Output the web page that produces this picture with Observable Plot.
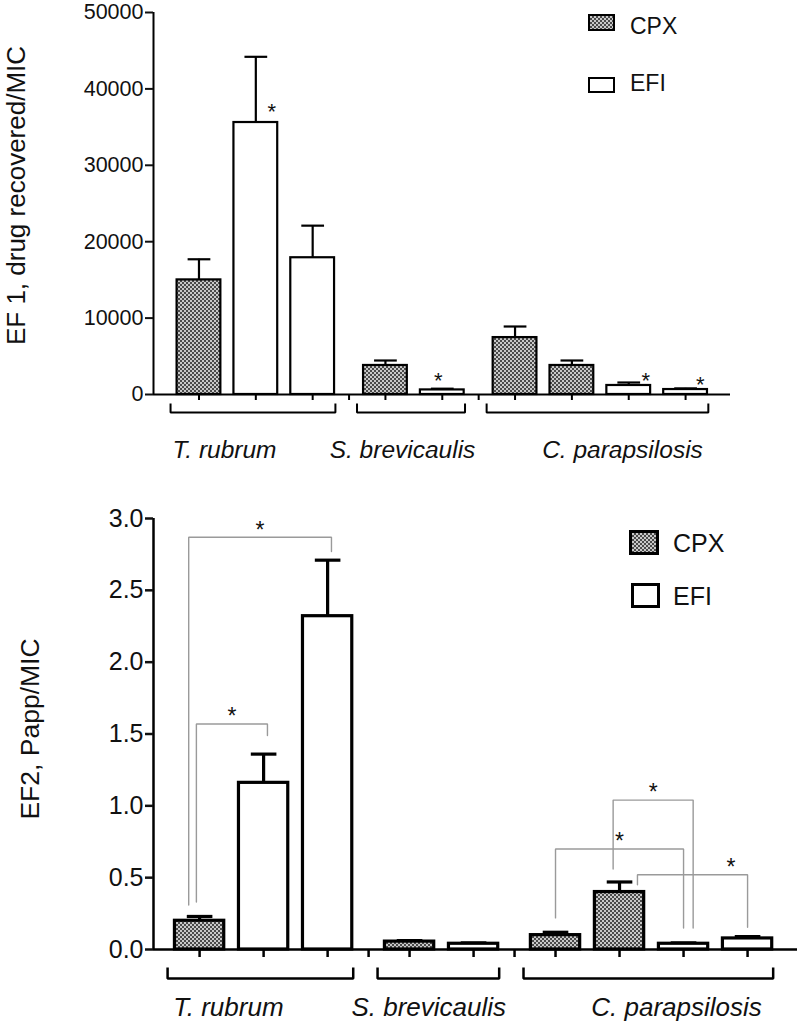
<!DOCTYPE html>
<html>
<head>
<meta charset="utf-8">
<script src="https://cdn.jsdelivr.net/npm/d3@7"></script>
<script src="https://cdn.jsdelivr.net/npm/@observablehq/plot@0.6"></script>
<style>
  body { margin: 0; background: #fff; font-family: Arial, "Liberation Sans", Helvetica, sans-serif; color: #111; }
  #wrap { position: relative; width: 798px; height: 1025px; overflow: hidden; }
  .panel { position: absolute; left: 0; }
  .sw { position: absolute; box-sizing: border-box; border: 2px solid #000; background: #fff; }
  .sw.cpx { background-color: #c8c8c8; background-image: conic-gradient(#4a4a4a 25%, #c8c8c8 0 50%, #4a4a4a 0 75%, #c8c8c8 0); background-size: 4px 4px; }
  .lt { position: absolute; line-height: 1; white-space: nowrap; }
</style>
</head>
<body>
<div id="wrap">
  <svg width="0" height="0" style="position:absolute">
    <defs>
      <pattern id="hatch" width="4" height="4" patternUnits="userSpaceOnUse">
        <rect width="4" height="4" fill="#c8c8c8"></rect>
        <rect width="2" height="2" fill="#4a4a4a"></rect>
        <rect x="2" y="2" width="2" height="2" fill="#4a4a4a"></rect>
      </pattern>
    </defs>
  </svg>
  <div id="top" class="panel" style="top:0"></div>
  <div id="bottom" class="panel" style="top:480px"></div>

  <div class="sw cpx" style="left:588px;top:14px;width:27px;height:17px"></div>
  <div class="lt" style="left:630px;top:14.7px;font-size:23px">CPX</div>
  <div class="sw" style="left:588px;top:77px;width:27px;height:16px"></div>
  <div class="lt" style="left:630px;top:71.7px;font-size:23px">EFI</div>

  <div class="sw cpx" style="left:629px;top:530px;width:30px;height:25px;border-width:3px"></div>
  <div class="lt" style="left:673px;top:530.8px;font-size:25px">CPX</div>
  <div class="sw" style="left:631px;top:583px;width:29px;height:25px;border-width:3px"></div>
  <div class="lt" style="left:673px;top:583.8px;font-size:25px">EFI</div>
</div>
<script>
// ---------- data ----------
const species = ["T. rubrum", "S. brevicaulis", "C. parapsilosis"];
const barSpecies = [0, 0, 0, 1, 1, 2, 2, 2, 2];
const barDrug = ["CPX", "EFI", "EFI", "CPX", "EFI", "CPX", "CPX", "EFI", "EFI"];

// EF 1 (top panel)
const ef1Mean  = [15000, 35600, 17900, 3800, 600, 7450, 3800, 1180, 650];
const ef1Upper = [17700, 44200, 22100, 4450, 760, 8900, 4450, 1570, 800];
const ef1Ticks = [0, 10000, 20000, 30000, 40000, 50000];
const ef1StarBar = [1, 4, 7, 8];
const ef1StarY = [37600, 2490, 2490, 1960];

// EF2 (bottom panel)
const ef2Mean  = [0.20, 1.16, 2.32, 0.055, 0.04, 0.10, 0.40, 0.04, 0.077];
const ef2Upper = [0.23, 1.36, 2.71, 0.062, 0.046, 0.12, 0.47, 0.046, 0.09];
const ef2Ticks = [0, 0.5, 1, 1.5, 2, 2.5, 3];
// significance comparisons (bar index from -> to, level of bracket, leg ends)
const cmpFrom    = [0, 0, 5, 6, 6];
const cmpTo      = [2, 1, 7, 7, 8];
const cmpTop     = [2.87, 1.57, 0.70, 1.04, 0.52];
const cmpFromEnd = [0.31, 0.33, 0.22, 0.56, 0.45];
const cmpToEnd   = [2.77, 1.49, 0.15, 0.15, 0.155];

// ---------- layout helpers (not data) ----------
const GAP = 0.28;                     // extra spacing between species groups
const HALF = 0.385;                   // half bar width (in slot units)
const barPos = barSpecies.map((g, i) => i + GAP * g);
const ef1StarShift = [0.28, -0.07, 0.3, 0.26];
const cmpFromShift = [-0.17, -0.05, 0, -0.1, 0.28];
const cmpToShift   = [0.06, 0.06, 0, 0.15, 0];
const cmpStarAt    = [0.5, 0.5, 0.5, 0.5, 0.85];
const labelShift   = [-0.55, -0.2, 0.39];
const FONT = 'Arial, "Liberation Sans", Helvetica, sans-serif';

function groupInfo() {
  return species.map((name, g) => {
    const ps = barPos.filter((_, i) => barSpecies[i] === g);
    const a = ps[0], b = ps[ps.length - 1];
    return {name, g, start: a - 0.5, end: b + 0.4, label: (a + b) / 2 + labelShift[g]};
  });
}
function gapTicks() {
  const out = [];
  for (let i = 1; i < barPos.length; i++) {
    if (barSpecies[i] !== barSpecies[i - 1]) out.push((barPos[i] + barPos[i - 1]) / 2);
  }
  return out;
}

function panel(o) {
  const plotH = o.height - o.mt - o.mb;
  const u = o.yMax / plotH; // data units per pixel
  const bars = o.mean.map((m, i) => ({i, pos: barPos[i], mean: m, upper: o.upper[i], drug: barDrug[i]}));
  const groups = groupInfo();
  const bracketPts = groups.flatMap(gr => [
    {g: gr.g, x: gr.start, y: -o.legTop * u},
    {g: gr.g, x: gr.start, y: -o.legBot * u},
    {g: gr.g, x: gr.end, y: -o.legBot * u},
    {g: gr.g, x: gr.end, y: -o.legTop * u}
  ]);
  const tickPos = [...barPos, ...gapTicks()];
  const marks = [
    // error bars
    Plot.ruleX(bars, {x: "pos", y1: "mean", y2: "upper", stroke: "#000", strokeWidth: o.sw}),
    Plot.link(bars, {x1: d => d.pos - o.cap, x2: d => d.pos + o.cap, y1: "upper", y2: "upper", stroke: "#000", strokeWidth: o.sw}),
    // bars
    Plot.rect(bars.filter(d => d.drug === "CPX"), {x1: d => d.pos - HALF, x2: d => d.pos + HALF, y1: 0, y2: "mean", fill: "url(#hatch)", stroke: "#000", strokeWidth: o.sw}),
    Plot.rect(bars.filter(d => d.drug === "EFI"), {x1: d => d.pos - HALF, x2: d => d.pos + HALF, y1: 0, y2: "mean", fill: "white", stroke: "#000", strokeWidth: o.sw}),
    // axes
    Plot.ruleX([o.xDomain[0]], {y1: 0, y2: o.yMax, stroke: "#000", strokeWidth: o.axisSw}),
    Plot.ruleY([0], {x1: o.xDomain[0], x2: o.xDomain[1], stroke: "#000", strokeWidth: o.axisSw}),
    Plot.axisY({ticks: o.ticks, tickFormat: o.fmt, tickSize: 8, tickPadding: 2, fontSize: o.tickFont, strokeWidth: o.axisSw, label: null}),
    Plot.ruleX(tickPos, {x: d => d, y1: 0, y2: -o.tickLen * u, stroke: "#000", strokeWidth: o.axisSw}),
    // species brackets and labels
    Plot.line(bracketPts, {x: "x", y: "y", z: "g", stroke: "#000", strokeWidth: o.axisSw, strokeLinejoin: "miter", strokeLinecap: "butt"}),
    Plot.text(groups, {x: "label", y: 0, text: "name", dy: o.labelDy, fontSize: o.labelFont, fontStyle: "italic", fill: "#111"}),
    // y label
    Plot.text([o.yLabel], {frameAnchor: "left", text: d => d, rotate: -90, dx: o.yLabelDx, dy: o.yLabelDy, fontSize: o.yLabelFont, fill: "#111", textAnchor: "middle"}),
    ...(o.extra ? o.extra(u) : [])
  ];
  return Plot.plot({
    width: 798, height: o.height,
    marginLeft: 153, marginRight: o.mr, marginTop: o.mt, marginBottom: o.mb,
    x: {domain: o.xDomain, axis: null},
    y: {domain: [0, o.yMax]},
    style: {fontFamily: FONT, background: "white", color: "#111", overflow: "visible"},
    marks
  });
}

// ---------- top panel ----------
const topStars = ef1StarBar.map((b, k) => ({x: barPos[b] + ef1StarShift[k], y: ef1StarY[k]}));
document.getElementById("top").appendChild(panel({
  mean: ef1Mean, upper: ef1Upper, ticks: ef1Ticks, yMax: 50000, fmt: d3.format("d"),
  height: 480, mt: 12, mb: 86, mr: 68, xDomain: [-0.8, 9.35],
  sw: 2.2, axisSw: 2, cap: 0.2, tickFont: 21.5, tickLen: 6, legTop: 9, legBot: 18,
  labelDy: 56, labelFont: 24.5,
  yLabel: "EF 1, drug recovered/MIC", yLabelFont: 26, yLabelDx: -137, yLabelDy: -8,
  extra: () => [Plot.text(topStars, {x: "x", y: "y", text: () => "*", fontSize: 22, dy: 5, fill: "#111"})]
}));

// ---------- bottom panel ----------
const cmpSegs = cmpFrom.flatMap((f, k) => {
  const xa = barPos[f] + cmpFromShift[k], xb = barPos[cmpTo[k]] + cmpToShift[k];
  return [
    {k, x: xa, y: cmpFromEnd[k]}, {k, x: xa, y: cmpTop[k]},
    {k, x: xb, y: cmpTop[k]}, {k, x: xb, y: cmpToEnd[k]}
  ];
});
const cmpStars = cmpFrom.map((f, k) => {
  const xa = barPos[f] + cmpFromShift[k], xb = barPos[cmpTo[k]] + cmpToShift[k];
  return {x: xa + (xb - xa) * cmpStarAt[k], y: cmpTop[k]};
});
document.getElementById("bottom").appendChild(panel({
  mean: ef2Mean, upper: ef2Upper, ticks: ef2Ticks, yMax: 3, fmt: d3.format(".1f"),
  height: 545, mt: 38, mb: 76, mr: 1, xDomain: [-0.72, 9.34],
  sw: 3.2, axisSw: 2.5, cap: 0.2, tickFont: 25, tickLen: 8, legTop: 18, legBot: 29,
  labelDy: 58.5, labelFont: 26,
  yLabel: "EF2, Papp/MIC", yLabelFont: 26.5, yLabelDx: -123, yLabelDy: -5,
  extra: () => [
    Plot.line(cmpSegs, {x: "x", y: "y", z: "k", stroke: "#9a9a9a", strokeWidth: 1.4, strokeLinejoin: "miter"}),
    Plot.text(cmpStars, {x: "x", y: "y", text: () => "*", fontSize: 23, dy: -7, fill: "#111"})
  ]
}));
</script>
</body>
</html>
